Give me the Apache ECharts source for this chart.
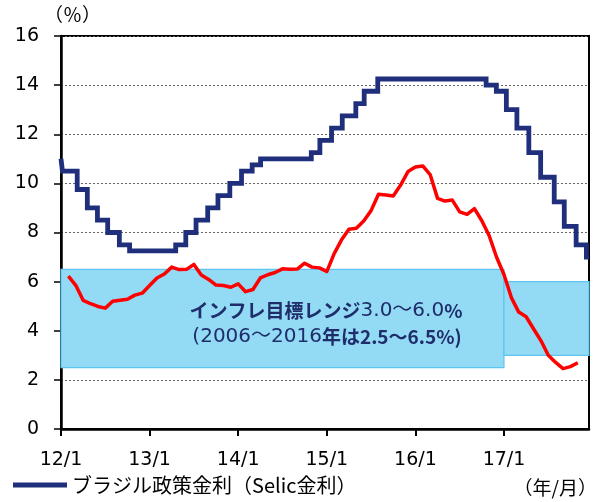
<!DOCTYPE html>
<html><head><meta charset="utf-8">
<script src="https://cdn.jsdelivr.net/npm/echarts@6/dist/echarts.min.js"></script>
<style>html,body{margin:0;padding:0;background:#fff}#c{width:599px;height:502px}</style>
</head><body><div id="c"></div>
<script>
// x ticks (year/month)
const xTickLabels = ['12/1','13/1','14/1','15/1','16/1','17/1'];
const xTickDates  = ['2012-01-01','2013-01-01','2014-01-01','2015-01-01','2016-01-01','2017-01-01'];
const axisStartDate = '2012-01-01';
const axisEndDate   = '2017-12-17';
// y ticks
const yMin = 0, yMax = 16, yStep = 2;

// Selic policy rate: date of change and new rate (%)
const selicDates = ['2012-01-01','2012-01-07','2012-03-07','2012-04-18','2012-05-30','2012-07-11','2012-08-29','2012-10-10',
  '2013-04-17','2013-05-29','2013-07-10','2013-08-28','2013-10-09','2013-11-27',
  '2014-01-15','2014-02-26','2014-04-02','2014-10-29','2014-12-03',
  '2015-01-21','2015-03-04','2015-04-29','2015-06-03','2015-07-29',
  '2016-10-19','2016-11-30',
  '2017-01-11','2017-02-22','2017-04-12','2017-05-31','2017-07-26','2017-09-06','2017-10-25','2017-12-06'];
const selicRates = [11.0,10.5,9.75,9.0,8.5,8.0,7.5,7.25,
  7.5,8.0,8.5,9.0,9.5,10.0,
  10.5,10.75,11.0,11.25,11.75,
  12.25,12.75,13.25,13.75,14.25,
  14.0,13.75,
  13.0,12.25,11.25,10.25,9.25,8.25,7.5,7.0];

// Inflation (IPCA, y/y %), monthly, month-end
const ipcaStart = '2012-01';
const ipcaValues = [6.22,5.85,5.24,5.10,4.99,4.92,5.20,5.24,5.28,5.45,5.53,5.84,
  6.15,6.31,6.59,6.49,6.50,6.70,6.27,6.09,5.86,5.84,5.77,5.91,
  5.59,5.68,6.15,6.28,6.37,6.52,6.50,6.51,6.75,6.59,6.56,6.41,
  7.14,7.70,8.13,8.17,8.47,8.89,9.56,9.53,9.49,9.93,10.48,10.67,
  10.71,10.36,9.39,9.28,9.32,8.84,8.74,8.97,8.48,7.87,6.99,6.29,
  5.35,4.76,4.57,4.08,3.60,3.00,2.71,2.46,2.54,2.70];

// Inflation target range
const targetStart = ['2012-01-01','2017-01-01'];
const targetEnd   = ['2017-01-01','2017-12-17'];
const targetLow   = [2.5, 3.0];
const targetHigh  = [6.5, 6.0];

const seriesName = 'ブラジル政策金利（Selic金利）';

function toM(s){
  const p = s.split('-').map(Number);
  const y = p[0], m = p[1], d = p[2] || 1;
  const dim = new Date(y, m, 0).getDate();
  return (y-2012)*12 + (m-1) + (d-1)/dim;
}
const xMin = toM(axisStartDate), xMax = toM(axisEndDate);
const tickVals = xTickDates.map(toM);
const selicData = selicDates.map((d,i)=>[toM(d), selicRates[i]]);
selicData.push([xMax, selicRates[selicRates.length-1]]);
const ipcaData = ipcaValues.map((v,i)=>[toM(ipcaStart+'-01') + i + 1, v]);
const bands = targetStart.map((s,i)=>[{coord:[toM(s), targetLow[i]]},{coord:[toM(targetEnd[i]), targetHigh[i]]}]);

const NFONT = 'DejaVu Sans, Noto Sans CJK JP, sans-serif';
const JFONT = 'Noto Sans CJK JP, sans-serif';
const NAVY = '#1F2D6B';

const chart = echarts.init(document.getElementById('c'));
chart.setOption({
  animation:false,
  backgroundColor:'#fff',
  grid:{left:61,right:10,top:36,bottom:73,show:true,borderColor:'#000',borderWidth:2,backgroundColor:'transparent'},
  xAxis:{type:'value',min:xMin,max:xMax,
    axisLine:{show:true,onZero:false,lineStyle:{color:'#000',width:2.5}},
    axisTick:{show:true,customValues:tickVals,length:7,lineStyle:{color:'#000',width:2}},
    axisLabel:{customValues:tickVals,formatter:v=>{const i=tickVals.findIndex(t=>Math.abs(t-v)<1e-6);return i>=0?xTickLabels[i]:'';},
      fontSize:19,color:'#000',fontFamily:NFONT,margin:22},
    splitLine:{show:false}},
  yAxis:{type:'value',min:yMin,max:yMax,interval:yStep,
    axisLine:{show:true,lineStyle:{color:'#000',width:2.5}},
    axisTick:{show:true,length:7,lineStyle:{color:'#000',width:1.5}},
    axisLabel:{fontSize:19,color:'#000',fontFamily:NFONT,margin:22},
    splitLine:{show:true,lineStyle:{color:'#666',type:[2,2],width:1}}},
  legend:{data:[{name:seriesName,icon:'rect'}],left:13,top:475,itemWidth:54,itemHeight:5,itemGap:10,padding:0,
    textStyle:{fontSize:20,color:'#000',fontFamily:JFONT}},
  graphic:[
    {type:'text',left:44,top:5,z:100,style:{text:'（％）',fontSize:19,fontFamily:JFONT,fill:'#000'}},
    {type:'text',right:2,top:478,z:100,style:{text:'（年/月）',fontSize:19,fontFamily:JFONT,fill:'#000'}},
    {type:'text',x:326,y:311,z:100,style:{align:'center',verticalAlign:'middle',
      text:'{b|インフレ目標レンジ}{n|3.0～6.0}{b|%}',
      rich:{b:{fontSize:19,fontWeight:'bold',fill:NAVY,fontFamily:JFONT},n:{fontSize:20,fontWeight:'normal',fill:NAVY,fontFamily:NFONT}}}},
    {type:'text',x:327,y:337,z:100,style:{align:'center',verticalAlign:'middle',
      text:'{n|(2006～2016}{b|年は2.5～6.5%)}',
      rich:{b:{fontSize:19,fontWeight:'bold',fill:NAVY,fontFamily:JFONT},n:{fontSize:20,fontWeight:'normal',fill:NAVY,fontFamily:NFONT}}}}
  ],
  series:[
    {type:'line',name:'インフレ率',data:ipcaData,showSymbol:false,z:3,
      lineStyle:{color:'#FF0000',width:3.5,join:'round'},itemStyle:{color:'#FF0000'},
      markArea:{silent:true,itemStyle:{color:'#93DAF4',borderColor:'#5EC6EE',borderWidth:1.2},data:bands}},
    {type:'line',name:seriesName,data:selicData,step:'end',showSymbol:false,z:4,
      lineStyle:{color:'#1F2F7B',width:4.8,cap:'butt',join:'miter'},itemStyle:{color:'#1F2F7B'}}
  ]
});
</script></body></html>
